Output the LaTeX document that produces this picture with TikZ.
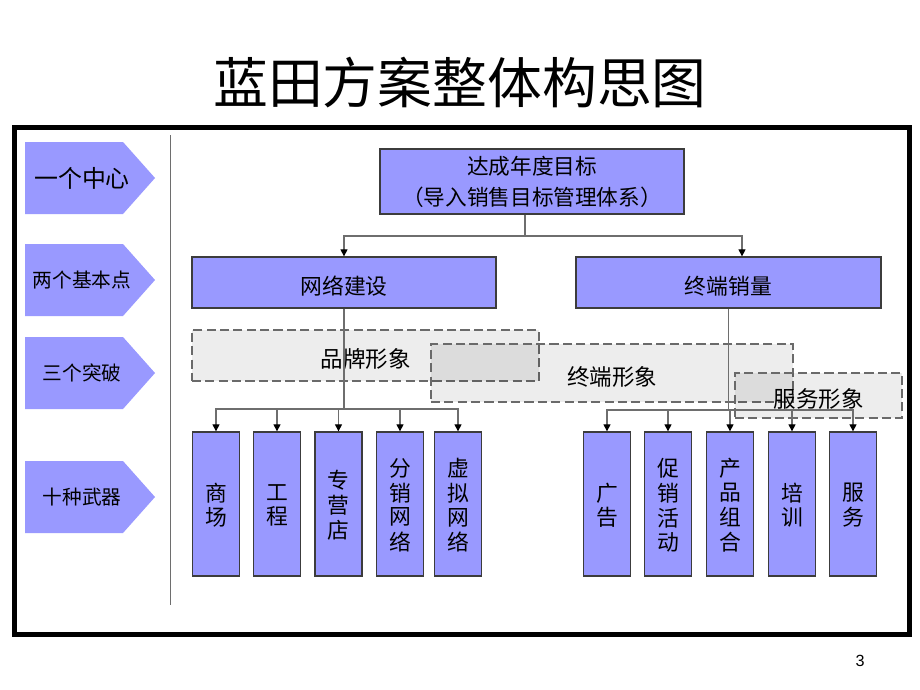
\documentclass[tikz,border=0pt]{standalone}
\usepackage{fontspec}
\setmainfont{Noto Sans CJK SC}
\newfontfamily\numfont{Liberation Sans}
\usetikzlibrary{arrows.meta,calc}

\definecolor{boxblue}{HTML}{9999FF}
\definecolor{wiregray}{HTML}{6E6E6E}
\definecolor{edgegray}{HTML}{3C3C3C}
\definecolor{dashgray}{HTML}{6A6A6A}

% text set a little below the middle of its box
\newcommand\lowtext[1]{\raisebox{-2.6pt}[\height][\depth]{#1}}
\newcommand\stackchars[1]{\lowtext{\begin{tabular}{@{}c@{}}#1\end{tabular}}}

\tikzset{
  box/.style={draw=edgegray, line width=0.9pt, fill=boxblue, inner sep=0pt, font=\fontsize{15.5}{15.5}\selectfont},
  tallbox/.style={box, minimum width=1.175cm, minimum height=3.6cm},
  dashbox/.style={draw=dashgray, line width=0.9pt, dash pattern=on 6.5pt off 3pt, fill=black, fill opacity=0.07, text opacity=1, inner sep=0pt, font=\fontsize{16}{16}\selectfont},
  wire/.style={draw=wiregray, line width=0.8pt},
  conn/.style={wire, -{Triangle[length=5pt,width=5pt,color=black]}},
}

\begin{document}
\begin{tikzpicture}[x=0.025cm, y=-0.025cm]
    \useasboundingbox[fill=white] (0,0) rectangle (920,690);

    % Title
    \node[font=\fontsize{39}{39}\selectfont] (title) at (460,83) {蓝田方案整体构思图};

    % Frame and separator
    \draw[line width=3.5pt] (14.5,127.5) rectangle (909.5,634.5);
    \draw[wiregray, line width=0.6pt] (170,135) -- (170,605);

    % Levels on the left
    \foreach \y/\txt/\fs/\nm in {178/一个中心/17/lv1, 280/两个基本点/14/lv2, 373/三个突破/14/lv3, 497/十种武器/14/lv4} {
        \fill[boxblue] (25,\y-36) -- (123,\y-36) -- (155,\y) -- (123,\y+36) -- (25,\y+36) -- cycle;
        \node[font=\fontsize{\fs}{\fs}\selectfont] (\nm) at (82,\y) {\txt};
    }

    % Goal and two basic points
    \node[box, minimum width=7.6cm, minimum height=1.625cm, align=center, font=\fontsize{15.4}{22}\selectfont] (goal) at (532,181.5) {达成年度目标\\（导入销售目标管理体系）};
    \node[box, minimum width=7.6cm, minimum height=1.275cm] (net) at (344,282.5) {\lowtext{网络建设}};
    \node[box, minimum width=7.625cm, minimum height=1.275cm] (term) at (728.5,282.5) {\lowtext{终端销量}};

    % Three breakthroughs
    \node[dashbox, minimum width=8.675cm, minimum height=1.275cm] (brand) at (365.5,355.5) {\lowtext{品牌形象}};
    \node[dashbox, minimum width=9.05cm, minimum height=1.45cm] (shop) at (612,373) {\lowtext{终端形象}};
    \node[dashbox, minimum width=4.175cm, minimum height=1.125cm] (serv) at (818.5,395.5) {\lowtext{服务形象}};

    % Ten weapons
    \foreach \x/\txt/\nm in {216/商\\场/a1, 277/工\\程/a2, 338.5/专\\营\\店/a3, 400/分\\销\\网\\络/a4, 458/虚\\拟\\网\\络/a5}
        \node[tallbox] (\nm) at (\x,504) {\stackchars{\txt}};
    \foreach \x/\txt/\nm in {607/广\\告/b1, 668/促\\销\\活\\动/b2, 730/产\\品\\组\\合/b3, 792/培\\训/b4, 853/服\\务/b5}
        \node[tallbox] (\nm) at (\x,504) {\stackchars{\txt}};

    % Connectors
    \coordinate (split) at (525,236);
    \draw[wire] (goal.south -| split) -- (split);
    \draw[conn] (split) -| (net.north);
    \draw[conn] (split) -| ($(term.north)+(13.5,0)$);

    \coordinate (lsplit) at (344,409);
    \draw[wire] (net.south) -- (lsplit);
    \foreach \b in {a1,a2,a3,a4,a5}
        \draw[conn] (lsplit) -| (\b.north);

    \coordinate (rsplit) at (728.5,410);
    \draw[wire] (term.south) -- (rsplit);
    \foreach \b in {b1,b2,b3,b4,b5}
        \draw[conn] (rsplit) -| (\b.north);

    % Page number
    \node[font=\numfont\fontsize{11.5}{12}\selectfont] (pnum) at (860,661) {3};
\end{tikzpicture}
\end{document}
